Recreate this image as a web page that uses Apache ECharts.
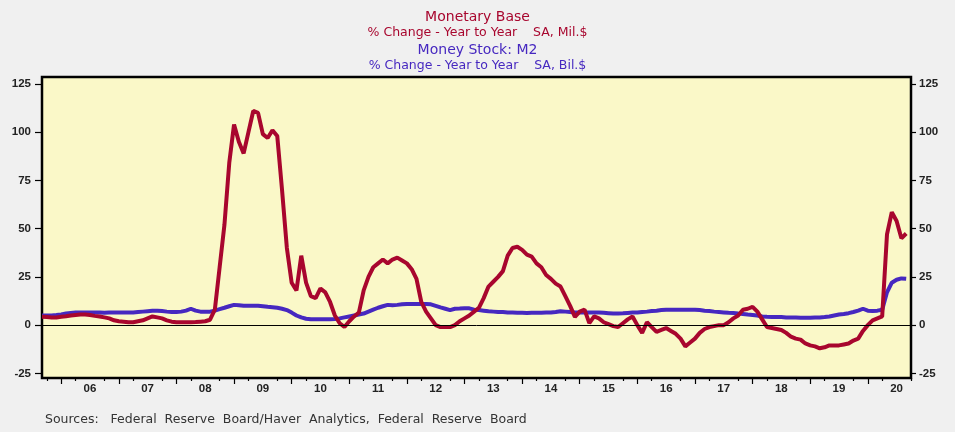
<!DOCTYPE html>
<html>
<head>
<meta charset="utf-8">
<script src="https://cdn.jsdelivr.net/npm/echarts@6/dist/echarts.min.js"></script>
<style>
html,body{margin:0;padding:0;background:#f0f0f0;}
#chart{width:955px;height:432px;}
</style>
</head>
<body>
<div id="chart"></div>
<script>
// Monthly data, Sep 2005 .. Sep 2020 (axis extends to Oct 2020)
const startYear = 2005, startMonth = 9, nMonths = 182;
const yearLabels = ['06','07','08','09','10','11','12','13','14','15','16','17','18','19','20'];
const yTicks = [-25, 0, 25, 50, 75, 100, 125];

// Monetary Base, % change year to year
const monetaryBase = [
  4.3,4.2,4,4,4.3,4.6,
  5,5.3,5.5,5.5,5.2,4.8,
  4.5,4,3.5,2.5,2,1.8,
  1.5,1.5,2,2.5,3.5,4.5,
  4,3.5,2.5,1.8,1.5,1.5,
  1.5,1.5,1.6,1.8,2,2.8,
  8,30,52,84,104,95,
  89,100,111,110,99,97,
  101,98,70,40,22,18,
  36,22,15,14,19,17,
  12,5,1,-1,2,4.5,
  6.5,18,25,30,32,34,
  32,34,35,33.5,32,29,
  24,12,7,3.5,0,-1,
  -1,-1,0,2,3.5,5,
  7,9,14,20,22.5,25,
  28,36,40,40.6,39,36.5,
  35.5,32,30,26,24,21.5,
  20,15,10,4.3,7,8,
  1,4.5,3.5,1.5,0.5,-0.5,
  -1,1,3,4.5,0,-4,
  1.5,-1,-3.5,-2.5,-1.5,-3,
  -4.5,-7,-11,-9,-7,-4,
  -2,-1,-0.5,0,0,1.5,
  3.5,5,8,8.5,9.5,7,
  3,-1,-1.5,-2,-2.5,-4,
  -6,-7,-7.5,-9.5,-10.5,-11,
  -12,-11.5,-10.5,-10.5,-10.5,-10,
  -9.5,-8,-7,-3,0,2.5,
  3.5,4.5,47,58.5,54,45,47.5
];

// Money Stock M2, % change year to year
const moneyStockM2 = [
  5,5,5,5.2,5.5,6,
  6.3,6.5,6.5,6.5,6.5,6.6,
  6.5,6.4,6.5,6.5,6.6,6.6,
  6.5,6.6,6.8,7,7.2,7.4,
  7.5,7.3,7,6.8,6.8,7,
  7.5,8.5,7.5,7,7,7,
  7.5,8.3,9,9.8,10.5,10.3,
  10,10,10,10,9.8,9.5,
  9.3,9,8.5,7.8,6.5,5,
  4,3.3,3,3,3,3,
  3,3.2,3.5,4,4.5,5,
  5.5,6,7,8,9,9.8,
  10.5,10.3,10.5,10.8,11,11,
  11,11,11,10.8,10,9.2,
  8.5,7.8,8.5,8.6,8.8,8.7,
  8,7.8,7.5,7.2,7,6.8,
  6.8,6.6,6.5,6.4,6.4,6.3,
  6.4,6.4,6.4,6.5,6.5,6.8,
  7.2,7,6.8,6.6,6.5,6.5,
  6.5,6.5,6.5,6.4,6.2,6,
  6,6.1,6.3,6.5,6.5,6.8,
  7,7.3,7.5,7.8,8,8,
  8,8,8,8,8,7.8,
  7.5,7.3,7,6.8,6.6,6.4,
  6.3,6,5.8,5.5,5.3,5,
  4.5,4.3,4.2,4.2,4.2,4,
  4,3.9,3.8,3.8,3.8,4,
  4,4.2,4.5,5,5.5,5.8,
  6.2,6.8,7.5,8.5,7.5,7.3,
  7.5,8,17,22,23.5,24.2,24
];

const months = [];
for (let i = 0; i < nMonths; i++) {
  const t = (startMonth - 1) + i;
  const y = startYear + Math.floor(t / 12);
  const m = (t % 12) + 1;
  months.push(y + '-' + (m < 10 ? '0' + m : m));
}
const monthOf = v => parseInt(v.split('-')[1], 10);
const yearOf = v => parseInt(v.split('-')[0], 10);

const RED = '#a8062e', BLUE = '#4628c0';
const labelFont = "'Liberation Sans',Arial,sans-serif";
const txtFont = "'DejaVu Sans',sans-serif";

const chart = echarts.init(document.getElementById('chart'), null, {renderer: 'canvas'});
const yAxisBase = {
  type: 'value', min: -27.4, max: 128.6,
  splitLine: {show: false},
  axisLine: {show: false, onZero: false},
  axisTick: {show: true, length: 7, customValues: yTicks, lineStyle: {color: '#000', width: 1.2}},
  axisLabel: {customValues: yTicks, color: '#222', fontFamily: labelFont, fontWeight: 'bold', fontSize: 11.5, margin: 11}
};
chart.setOption({
  animation: false,
  backgroundColor: '#f0f0f0',
  title: [
    {text: 'Monetary Base', left: 'center', top: 5, textStyle: {color: RED, fontFamily: txtFont, fontWeight: 'normal', fontSize: 14}},
    {text: '% Change - Year to Year    SA, Mil.$', left: 'center', top: 21, textStyle: {color: RED, fontFamily: txtFont, fontWeight: 'normal', fontSize: 12.5}},
    {text: 'Money Stock: M2', left: 'center', top: 38, textStyle: {color: BLUE, fontFamily: txtFont, fontWeight: 'normal', fontSize: 14}},
    {text: '% Change - Year to Year    SA, Bil.$', left: 'center', top: 54, textStyle: {color: BLUE, fontFamily: txtFont, fontWeight: 'normal', fontSize: 12.5}}
  ],
  graphic: [{
    type: 'text', left: 45, top: 413,
    style: {text: 'Sources:   Federal  Reserve  Board/Haver  Analytics,  Federal  Reserve  Board', fill: '#333', font: "12.5px 'DejaVu Sans',sans-serif"}
  }],
  grid: {left: 42, right: 44, top: 77, bottom: 54, show: true, backgroundColor: '#faf8c8', borderColor: '#000', borderWidth: 2.5},
  xAxis: [{
    type: 'category', data: months, boundaryGap: false,
    axisLine: {show: false, onZero: false},
    axisTick: {show: true, length: 6, interval: (i, v) => monthOf(v) === 1, lineStyle: {color: '#000', width: 1.2}},
    axisLabel: {
      interval: (i, v) => monthOf(v) === 7,
      formatter: v => yearLabels[yearOf(v) - 2006] || '',
      color: '#222', fontFamily: labelFont, fontWeight: 'bold', fontSize: 11.5, margin: 5
    }
  }, {
    type: 'category', data: months, boundaryGap: false, position: 'bottom',
    axisLine: {show: false, onZero: false},
    axisTick: {show: true, length: 3, interval: (i, v) => monthOf(v) === 4 || monthOf(v) === 10, lineStyle: {color: '#000', width: 1.2}},
    axisLabel: {show: false}
  }],
  yAxis: [
    Object.assign({}, yAxisBase, {position: 'left'}),
    Object.assign({}, yAxisBase, {position: 'right', axisTick: Object.assign({}, yAxisBase.axisTick, {length: 5}), axisLabel: Object.assign({}, yAxisBase.axisLabel, {margin: 8})})
  ],
  series: [{
    name: 'Money Stock: M2', type: 'line', data: moneyStockM2, showSymbol: false,
    lineStyle: {color: BLUE, width: 4}, z: 2
  }, {
    name: 'Monetary Base', type: 'line', data: monetaryBase, showSymbol: false,
    lineStyle: {color: RED, width: 4}, z: 3,
    markLine: {silent: true, symbol: 'none', label: {show: false}, data: [{yAxis: 0}], lineStyle: {color: '#000', width: 1, type: 'solid'}}
  }]
});
</script>
</body>
</html>
